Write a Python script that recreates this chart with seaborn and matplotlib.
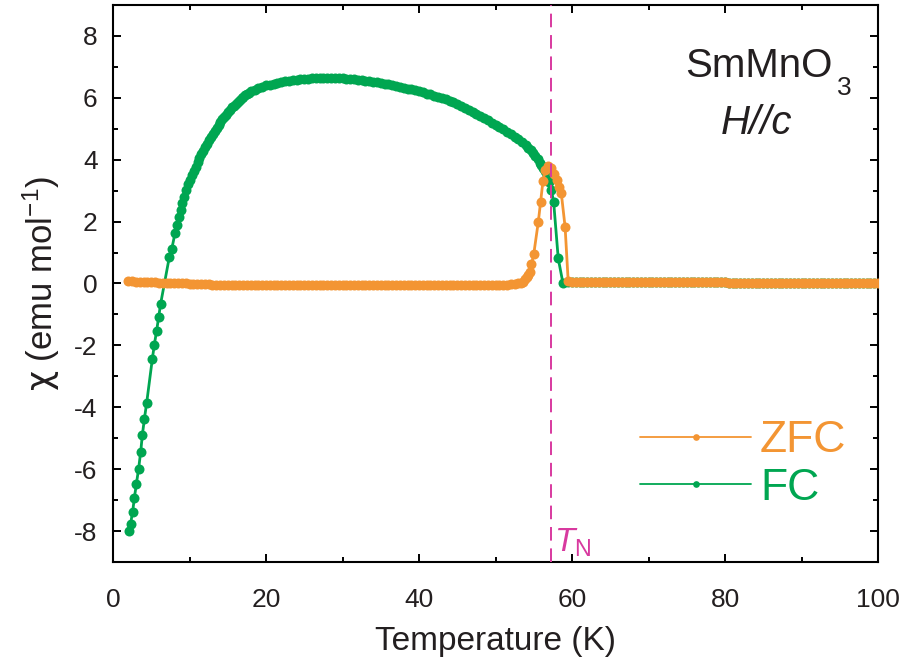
import numpy as np
import pandas as pd
import matplotlib
matplotlib.use("Agg")
import matplotlib.pyplot as plt
import seaborn as sns
from matplotlib.lines import Line2D
from matplotlib.ticker import MultipleLocator

# ---------------- data: FC (field cooled) ----------------
fc_temp_low = [2.13, 2.30, 2.57, 2.79, 3.05, 3.35, 3.62, 3.83, 4.10, 4.40,
               5.14, 5.40, 5.70, 5.97, 6.23, 7.36, 7.67, 8.10, 8.40, 8.63,
               8.85, 9.06, 9.28, 9.54, 9.80, 10.05, 10.30, 10.55, 10.80, 11.05,
               11.30, 11.55, 11.80, 12.05, 12.30, 12.55, 12.80, 13.05, 13.30, 13.55,
               13.80, 14.05, 14.30, 14.55, 14.80, 15.05, 15.30, 15.55, 15.80, 16.05,
               16.30, 16.55, 16.80, 17.05, 17.30, 17.55, 17.80, 18.05]
fc_chi_low = [-7.99, -7.76, -7.37, -6.93, -6.49, -5.98, -5.44, -4.91, -4.38, -3.86,
              -2.44, -1.98, -1.53, -1.09, -0.65, 0.85, 1.10, 1.62, 1.89, 2.14,
              2.38, 2.59, 2.81, 3.02, 3.22, 3.36, 3.50, 3.64, 3.78, 3.92,
              4.05, 4.17, 4.29, 4.41, 4.52, 4.63, 4.73, 4.83, 4.94, 5.04,
              5.13, 5.22, 5.30, 5.38, 5.46, 5.54, 5.62, 5.69, 5.75, 5.81,
              5.87, 5.93, 5.98, 6.03, 6.08, 6.13, 6.17, 6.21]

fc_temp_mid = [18.5, 19.0, 19.5, 20.0, 20.5, 21.0, 21.5, 22.0, 22.5, 23.0,
               23.5, 24.0, 24.5, 25.0, 25.5, 26.0, 26.5, 27.0, 27.5, 28.0,
               28.5, 29.0, 29.5, 30.0, 30.5, 31.0, 31.5, 32.0, 32.5, 33.0,
               33.5, 34.0, 34.5, 35.0, 35.5, 36.0, 36.5, 37.0, 37.5, 38.0,
               38.5, 39.0, 39.5, 40.0, 40.5, 41.0, 41.5, 42.0, 42.5, 43.0,
               43.5, 44.0, 44.5, 45.0, 45.5, 46.0, 46.5, 47.0, 47.5, 48.0,
               48.5, 49.0, 49.5, 50.0, 50.5, 51.0, 51.5, 52.0, 52.5, 53.0,
               53.5, 54.0]
fc_chi_mid = [6.26, 6.31, 6.36, 6.40, 6.43, 6.46, 6.49, 6.51, 6.53, 6.55,
              6.57, 6.58, 6.60, 6.61, 6.62, 6.63, 6.64, 6.64, 6.65, 6.65,
              6.65, 6.64, 6.64, 6.63, 6.62, 6.61, 6.60, 6.59, 6.57, 6.56,
              6.54, 6.52, 6.50, 6.48, 6.46, 6.44, 6.41, 6.39, 6.36, 6.33,
              6.30, 6.27, 6.24, 6.21, 6.18, 6.14, 6.11, 6.07, 6.03, 5.99,
              5.95, 5.90, 5.85, 5.79, 5.73, 5.66, 5.60, 5.54, 5.47, 5.40,
              5.34, 5.27, 5.20, 5.12, 5.05, 4.98, 4.91, 4.83, 4.75, 4.67,
              4.57, 4.46]

fc_temp_drop = [54.3, 54.6, 54.9, 55.2, 55.5, 55.8, 56.0, 56.2, 56.45, 56.7,
                57.0, 57.3, 57.6, 58.2, 58.8]
fc_chi_drop = [4.39, 4.31, 4.21, 4.11, 4.02, 3.90, 3.82, 3.72, 3.62, 3.51,
               3.29, 3.02, 2.64, 0.81, 0.03]

fc_temp_high = [59.5, 60.0, 60.5, 61.0, 61.5, 62.0, 62.5, 63.0, 63.5, 64.0,
                64.5, 65.0, 65.5, 66.0, 66.5, 67.0, 67.5, 68.0, 68.5, 69.0,
                69.5, 70.0, 70.5, 71.0, 71.5, 72.0, 72.5, 73.0, 73.5, 74.0,
                74.5, 75.0, 75.5, 76.0, 76.5, 77.0, 77.5, 78.0, 78.5, 79.0,
                79.5, 80.0, 80.5, 81.0, 81.5, 82.0, 82.5, 83.0, 83.5, 84.0,
                84.5, 85.0, 85.5, 86.0, 86.5, 87.0, 87.5, 88.0, 88.5, 89.0,
                89.5, 90.0, 90.5, 91.0, 91.5, 92.0, 92.5, 93.0, 93.5, 94.0,
                94.5, 95.0, 95.5, 96.0, 96.5, 97.0, 97.5, 98.0, 98.5, 99.0,
                99.5, 100.0]
fc_chi_high = [0.04, 0.04, 0.04, 0.04, 0.04, 0.04, 0.04, 0.04, 0.04, 0.04,
               0.04, 0.04, 0.04, 0.04, 0.04, 0.04, 0.04, 0.04, 0.04, 0.04,
               0.04, 0.04, 0.04, 0.04, 0.04, 0.04, 0.04, 0.04, 0.04, 0.04,
               0.04, 0.04, 0.04, 0.04, 0.04, 0.04, 0.04, 0.04, 0.04, 0.04,
               0.04, 0.04, 0.03, 0.03, 0.03, 0.03, 0.03, 0.03, 0.03, 0.03,
               0.03, 0.03, 0.03, 0.03, 0.03, 0.03, 0.03, 0.03, 0.03, 0.03,
               0.03, 0.03, 0.03, 0.03, 0.03, 0.03, 0.03, 0.03, 0.03, 0.03,
               0.03, 0.03, 0.02, 0.02, 0.02, 0.02, 0.02, 0.02, 0.02, 0.02,
               0.02, 0.02]

# ---------------- data: ZFC (zero-field cooled) ----------------
zfc_temp_low = [2.0, 2.5, 3.0, 3.5, 4.0, 4.5, 5.0, 5.5, 6.0, 6.5,
                7.0, 7.5, 8.0, 8.5, 9.0, 9.5, 10.0, 10.5, 11.0, 11.5,
                12.0, 12.5, 13.0, 13.5, 14.0, 14.5, 15.0, 15.5, 16.0, 16.5,
                17.0, 17.5, 18.0, 18.5, 19.0, 19.5, 20.0, 20.5, 21.0, 21.5,
                22.0, 22.5, 23.0, 23.5, 24.0, 24.5, 25.0, 25.5, 26.0, 26.5,
                27.0, 27.5, 28.0, 28.5, 29.0, 29.5, 30.0, 30.5, 31.0, 31.5,
                32.0, 32.5, 33.0, 33.5, 34.0, 34.5, 35.0, 35.5, 36.0, 36.5,
                37.0, 37.5, 38.0, 38.5, 39.0, 39.5, 40.0, 40.5, 41.0, 41.5,
                42.0, 42.5, 43.0, 43.5, 44.0, 44.5, 45.0, 45.5, 46.0, 46.5,
                47.0, 47.5, 48.0, 48.5, 49.0, 49.5, 50.0, 50.5, 51.0, 51.5,
                52.0, 52.5, 53.0]
zfc_chi_low = [0.07, 0.07, 0.06, 0.06, 0.05, 0.05, 0.04, 0.04, 0.03, 0.03,
               0.02, 0.02, 0.01, 0.01, 0.00, 0.00, -0.01, -0.01, -0.02, -0.02,
               -0.03, -0.03, -0.04, -0.04, -0.04, -0.04, -0.05, -0.05, -0.05, -0.05,
               -0.05, -0.05, -0.05, -0.05, -0.05, -0.05, -0.05, -0.05, -0.05, -0.05,
               -0.05, -0.05, -0.05, -0.05, -0.05, -0.05, -0.05, -0.05, -0.05, -0.05,
               -0.05, -0.05, -0.05, -0.05, -0.05, -0.05, -0.05, -0.05, -0.05, -0.05,
               -0.05, -0.05, -0.05, -0.05, -0.05, -0.05, -0.05, -0.05, -0.05, -0.05,
               -0.05, -0.05, -0.05, -0.05, -0.05, -0.05, -0.05, -0.05, -0.05, -0.05,
               -0.05, -0.05, -0.05, -0.05, -0.05, -0.05, -0.05, -0.05, -0.05, -0.05,
               -0.05, -0.05, -0.05, -0.05, -0.05, -0.05, -0.05, -0.04, -0.04, -0.04,
               -0.03, -0.02, 0.00]

zfc_temp_peak = [53.3, 53.6, 53.9, 54.1, 54.3, 54.5, 54.7, 55.0, 55.6, 55.9,
                 56.2, 56.5, 56.9, 57.3, 57.7, 58.0, 58.3, 58.6, 59.1, 59.5]
zfc_chi_peak = [0.02, 0.06, 0.13, 0.20, 0.28, 0.38, 0.62, 0.95, 2.00, 2.64,
                3.30, 3.67, 3.80, 3.72, 3.55, 3.35, 3.13, 2.92, 1.82, 0.08]

zfc_temp_high = [60.0, 60.5, 61.0, 61.5, 62.0, 62.5, 63.0, 63.5, 64.0, 64.5,
                 65.0, 65.5, 66.0, 66.5, 67.0, 67.5, 68.0, 68.5, 69.0, 69.5,
                 70.0, 70.5, 71.0, 71.5, 72.0, 72.5, 73.0, 73.5, 74.0, 74.5,
                 75.0, 75.5, 76.0, 76.5, 77.0, 77.5, 78.0, 78.5, 79.0, 79.5,
                 80.0, 80.5, 81.0, 81.5, 82.0, 82.5, 83.0, 83.5, 84.0, 84.5,
                 85.0, 85.5, 86.0, 86.5, 87.0, 87.5, 88.0, 88.5, 89.0, 89.5,
                 90.0, 90.5, 91.0, 91.5, 92.0, 92.5, 93.0, 93.5, 94.0, 94.5,
                 95.0, 95.5, 96.0, 96.5, 97.0, 97.5, 98.0, 98.5, 99.0, 99.5,
                 100.0]
zfc_chi_high = [0.04, 0.04, 0.04, 0.04, 0.04, 0.04, 0.04, 0.04, 0.04, 0.04,
                0.04, 0.04, 0.04, 0.04, 0.04, 0.04, 0.04, 0.04, 0.04, 0.04,
                0.04, 0.04, 0.04, 0.04, 0.04, 0.04, 0.04, 0.04, 0.04, 0.04,
                0.04, 0.04, 0.04, 0.04, 0.04, 0.04, 0.04, 0.04, 0.04, 0.04,
                0.04, 0.03, 0.03, 0.03, 0.03, 0.03, 0.03, 0.03, 0.03, 0.03,
                0.03, 0.03, 0.03, 0.03, 0.03, 0.03, 0.03, 0.03, 0.03, 0.03,
                0.03, 0.03, 0.03, 0.03, 0.03, 0.03, 0.03, 0.03, 0.03, 0.03,
                0.03, 0.02, 0.02, 0.02, 0.02, 0.02, 0.02, 0.02, 0.02, 0.02,
                0.02]

neel_temp = 57.3
x_ticks = [0, 20, 40, 60, 80, 100]
y_ticks = [-8, -6, -4, -2, 0, 2, 4, 6, 8]
series_labels = ["ZFC", "FC"]

# ---------------- style ----------------
sns.set_theme(style="ticks")
plt.rcParams.update({
    "font.family": ["Liberation Sans", "DejaVu Sans"],
    "mathtext.fontset": "custom",
    "mathtext.rm": "Liberation Sans",
    "mathtext.it": "Liberation Sans:italic",
    "mathtext.sf": "DejaVu Sans",
    "mathtext.default": "regular",
    "axes.unicode_minus": False,
    "axes.linewidth": 1.5,
    "axes.edgecolor": "black",
    "text.color": "#231f20",
    "axes.labelcolor": "#231f20",
    "xtick.color": "black",
    "ytick.color": "black",
    "xtick.labelcolor": "#231f20",
    "ytick.labelcolor": "#231f20",
})

ZFC_COLOR = "#F39533"
FC_COLOR = "#00A651"
TN_COLOR = "#D8399F"
TEXT_COLOR = "#231f20"

fc = pd.DataFrame({
    "T": fc_temp_low + fc_temp_mid + fc_temp_drop + fc_temp_high,
    "chi": fc_chi_low + fc_chi_mid + fc_chi_drop + fc_chi_high,
})
zfc = pd.DataFrame({
    "T": zfc_temp_low + zfc_temp_peak + zfc_temp_high,
    "chi": zfc_chi_low + zfc_chi_peak + zfc_chi_high,
})

fig = plt.figure(figsize=(9.07, 6.69), dpi=100)
ax = fig.add_axes([113 / 907, 1 - 562 / 669, 765 / 907, 557 / 669])

line_kw = dict(marker="o", markersize=7.2, markeredgewidth=0, linewidth=2.0,
               estimator=None, sort=False, legend=False)
sns.lineplot(data=fc, x="T", y="chi", color=FC_COLOR, ax=ax, zorder=2, **line_kw)
sns.lineplot(data=zfc, x="T", y="chi", color=ZFC_COLOR, ax=ax, zorder=3, **line_kw)

ax.axvline(neel_temp, color=TN_COLOR, linewidth=1.4, linestyle=(0, (7, 4)), zorder=4)

ax.set_xlim(0, 100)
ax.set_ylim(-9, 9)
ax.set_xticks(x_ticks)
ax.set_yticks(y_ticks)
ax.xaxis.set_minor_locator(MultipleLocator(10))
ax.yaxis.set_minor_locator(MultipleLocator(1))
ax.tick_params(which="both", direction="in", top=True, right=True, width=1.4)
ax.tick_params(which="major", length=6)
ax.tick_params(which="minor", length=3.5)
ax.tick_params(axis="x", labelsize=19, pad=19)
ax.tick_params(axis="y", labelsize=19, pad=11)
for s in ax.spines.values():
    s.set_visible(True)
    s.set_linewidth(1.5)

ax.set_xlabel("Temperature (K)", fontsize=24, labelpad=10)
ax.set_ylabel(r"$\mathsf{\chi}$ (emu mol$^{-1}$)", fontsize=25, labelpad=9)

# compound name with a deep subscript, field direction below it
ax.text(0.940, 0.871, "SmMnO", transform=ax.transAxes, fontsize=29,
        ha="right", va="baseline", color=TEXT_COLOR)
ax.text(0.947, 0.838, "3", transform=ax.transAxes, fontsize=19,
        ha="left", va="baseline", color=TEXT_COLOR)
ax.text(0.841, 0.768, "H//c", transform=ax.transAxes, fontsize=29,
        fontstyle="italic", ha="center", va="baseline", color=TEXT_COLOR)
ax.text(neel_temp + 0.4, -8.68, r"$\mathit{T}_\mathregular{N}$", fontsize=24,
        color=TN_COLOR, ha="left", va="baseline")

handles = [
    Line2D([], [], color=ZFC_COLOR, marker="o", markersize=4.8, markeredgewidth=0, linewidth=1.3),
    Line2D([], [], color=FC_COLOR, marker="o", markersize=4.8, markeredgewidth=0, linewidth=1.3),
]
ax.legend(handles, series_labels, loc="center left", bbox_to_anchor=(0.689, 0.175),
          frameon=False, fontsize=32, numpoints=1, handlelength=2.5,
          handletextpad=0.2, labelspacing=0.15, borderpad=0, borderaxespad=0,
          labelcolor="linecolor")

fig.savefig("out.png", dpi=100)
